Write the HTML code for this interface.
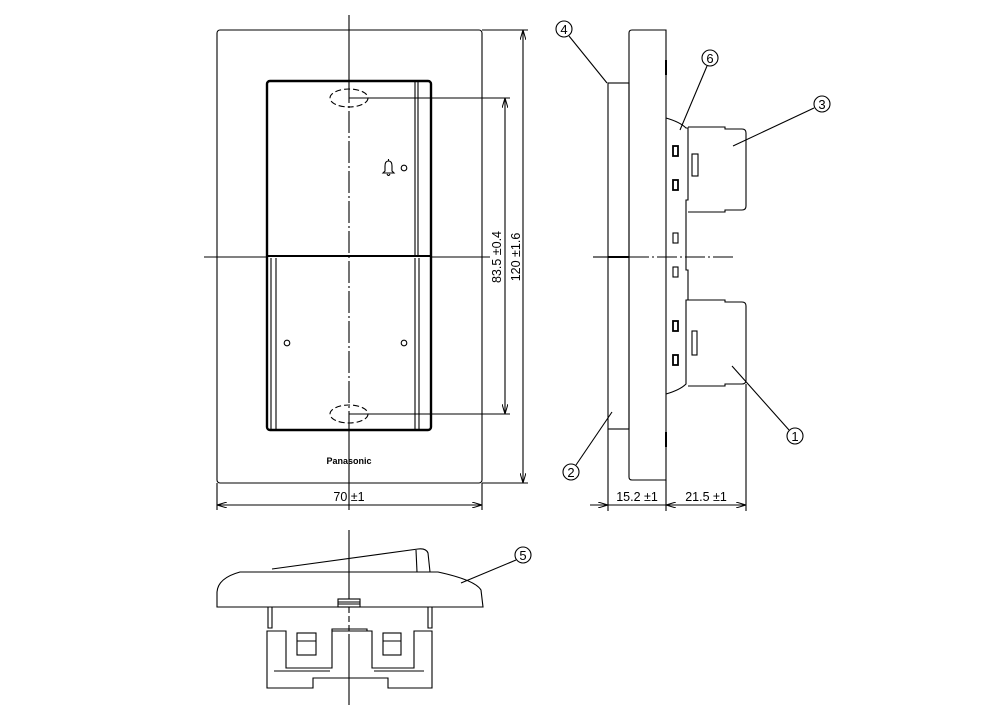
<!DOCTYPE html>
<html><head><meta charset="utf-8"><style>
html,body{margin:0;padding:0;background:#fff;}
svg{display:block;}
text{font-family:"Liberation Sans",sans-serif;fill:#000;}
</style></head><body>
<svg width="1000" height="723" viewBox="0 0 1000 723" xmlns="http://www.w3.org/2000/svg">
<defs>
<marker id="a" viewBox="0 0 10 6" refX="10" refY="3" markerWidth="10" markerHeight="6" orient="auto-start-reverse" markerUnits="userSpaceOnUse"><path d="M0,0 L10,3 L0,6" fill="none" stroke="#000" stroke-width="1"/></marker>
</defs>
<g fill="none" stroke="#000" stroke-width="1.1">
<!-- FRONT VIEW -->
<rect x="217" y="30" width="265" height="453" rx="3"/>
<line x1="349" y1="15" x2="349" y2="81"/>
<line x1="349" y1="81" x2="349" y2="430" stroke-dasharray="22,3,2,3"/>
<line x1="349" y1="430" x2="349" y2="510"/>
<line x1="204" y1="257" x2="267" y2="257"/>
<line x1="431" y1="257" x2="490" y2="257"/>
<rect x="267" y="81" width="164" height="349" rx="3" stroke-width="2.4"/>
<line x1="267" y1="256" x2="431" y2="256" stroke-width="2"/>
<line x1="415" y1="82" x2="415" y2="256"/><line x1="418" y1="82" x2="418" y2="256"/>
<line x1="415" y1="258" x2="415" y2="429"/><line x1="419" y1="258" x2="419" y2="429"/>
<line x1="271" y1="258" x2="271" y2="429"/><line x1="276" y1="258" x2="276" y2="429"/>
<ellipse cx="349" cy="98" rx="19" ry="9" stroke-dasharray="6,3"/>
<ellipse cx="349" cy="414" rx="19" ry="9" stroke-dasharray="6,3"/>
<circle cx="404" cy="168" r="2.8"/>
<circle cx="287" cy="343" r="2.8"/>
<circle cx="404" cy="343" r="2.8"/>
<path d="M383,173 L385,171 L385,166 Q385,161 388.5,161 Q392,161 392,166 L392,171 L394,173 Z M387,174 Q388.5,177 390,174"/>
<line x1="388.5" y1="159" x2="388.5" y2="161"/>
<!-- dims front -->
<line x1="349" y1="98" x2="510" y2="98"/>
<line x1="349" y1="414" x2="510" y2="414"/>
<line x1="505" y1="98" x2="505" y2="414" marker-start="url(#a)" marker-end="url(#a)"/>
<line x1="482" y1="30" x2="528" y2="30"/>
<line x1="482" y1="483" x2="528" y2="483"/>
<line x1="523" y1="30" x2="523" y2="483" marker-start="url(#a)" marker-end="url(#a)"/>
<line x1="217" y1="483" x2="217" y2="510"/>
<line x1="482" y1="483" x2="482" y2="510"/>
<line x1="217" y1="505" x2="482" y2="505" marker-start="url(#a)" marker-end="url(#a)"/>

<!-- SIDE VIEW -->
<path d="M666,30 L632,30 Q629,30 629,33 L629,477 Q629,480 632,480 L666,480 Z"/>
<line x1="666" y1="60" x2="666" y2="75" stroke-width="2"/>
<line x1="666" y1="432" x2="666" y2="447" stroke-width="2"/>
<rect x="608" y="83" width="21" height="346"/>
<line x1="608" y1="257" x2="629" y2="257" stroke-width="2"/>
<line x1="593" y1="257" x2="608" y2="257"/>
<line x1="629" y1="257" x2="735" y2="257" stroke-dasharray="20,3,2,3"/>
<path d="M666,118 Q680,122 686,128 L688,128 L688,200 L686,200 L686,270 L688,270 L688,300 L686,300 L686,384 Q680,390 666,394"/>
<path d="M688,127 L725,127 L725,129 L742,129 Q746,129 746,133 L746,206 Q746,210 742,210 L725,210 L725,212 L688,212"/>
<rect x="692" y="154" width="6" height="22"/>
<path d="M688,300 L725,300 L725,302 L742,302 Q746,302 746,306 L746,380 Q746,384 742,384 L725,384 L725,386 L688,386"/>
<rect x="692" y="331" width="5" height="24"/>
<g stroke-width="1.8">
<rect x="673" y="146" width="5" height="10"/><rect x="673" y="180" width="5" height="10"/>
<rect x="673" y="321" width="5" height="10"/><rect x="673" y="355" width="5" height="10"/>
</g>
<rect x="673" y="233" width="5" height="10"/><rect x="673" y="267" width="5" height="10"/>
<!-- dims side -->
<line x1="608" y1="429" x2="608" y2="511"/>
<line x1="666" y1="480" x2="666" y2="511"/>
<line x1="746" y1="384" x2="746" y2="511"/>
<line x1="590" y1="505" x2="608" y2="505" marker-end="url(#a)"/>
<line x1="608" y1="505" x2="746" y2="505"/>
<line x1="666" y1="505" x2="746" y2="505" marker-start="url(#a)" marker-end="url(#a)"/>
<!-- callouts -->
<circle cx="564" cy="29" r="8"/><line x1="569" y1="36" x2="607" y2="83"/>
<circle cx="710" cy="58" r="8"/><line x1="707" y1="66" x2="680" y2="130"/>
<circle cx="822" cy="104" r="8"/><line x1="814" y1="108" x2="733" y2="146"/>
<circle cx="795" cy="436" r="8"/><line x1="789" y1="430" x2="732" y2="366"/>
<circle cx="571" cy="472" r="8"/><line x1="576" y1="465" x2="612" y2="412"/>
<circle cx="523" cy="555" r="8"/><line x1="516" y1="560" x2="461" y2="583"/>

<!-- BOTTOM VIEW -->
<path d="M217,607 L217,592 Q218,578 240,572 L438,572 Q475,580 481,590 L483,607 Z"/>
<path d="M272,569 L418,549 Q426,548 428,553 L430,572"/>
<line x1="416" y1="550" x2="417" y2="572"/>
<line x1="349" y1="530" x2="349" y2="607"/>
<line x1="349" y1="607" x2="349" y2="640" stroke-dasharray="6,3"/>
<line x1="349" y1="640" x2="349" y2="705"/>
<rect x="338" y="599" width="22" height="8" fill="#fff"/>
<line x1="338" y1="602" x2="360" y2="602"/><line x1="338" y1="604" x2="360" y2="604"/>
<path d="M268,607 L268,628 L272,628 L272,607"/>
<path d="M428,607 L428,628 L432,628 L432,607"/>
<path d="M267,631 L267,688 L313,688 L313,678 L388,678 L388,688 L432,688 L432,631 L414,631 L414,668 L372,668 L372,631 L332,631 L332,668 L286,668 L286,631 Z"/>
<path d="M332,631 L332,629 L367,629 L367,631"/>
<rect x="297" y="633" width="19" height="22"/><line x1="297" y1="641" x2="316" y2="641"/>
<rect x="383" y="633" width="18" height="22"/><line x1="383" y1="641" x2="401" y2="641"/>
<line x1="274" y1="671" x2="330" y2="671"/><line x1="374" y1="671" x2="424" y2="671"/>
</g>
<g font-size="12.5">
<text x="497" y="257" text-anchor="middle" transform="rotate(-90 497 257)" dy="4">83.5 ±0.4</text>
<text x="516" y="257" text-anchor="middle" transform="rotate(-90 516 257)" dy="4">120 ±1.6</text>
<text x="349" y="501" text-anchor="middle">70 ±1</text>
<text x="637" y="501" text-anchor="middle">15.2 ±1</text>
<text x="706" y="501" text-anchor="middle">21.5 ±1</text>
<text x="564" y="34" text-anchor="middle" font-size="13">4</text>
<text x="710" y="63" text-anchor="middle" font-size="13">6</text>
<text x="822" y="109" text-anchor="middle" font-size="13">3</text>
<text x="795" y="441" text-anchor="middle" font-size="13">1</text>
<text x="571" y="477" text-anchor="middle" font-size="13">2</text>
<text x="523" y="560" text-anchor="middle" font-size="13">5</text>
</g>
<text x="349" y="464" text-anchor="middle" font-size="9" font-weight="bold">Panasonic</text>
</svg>
</body></html>
